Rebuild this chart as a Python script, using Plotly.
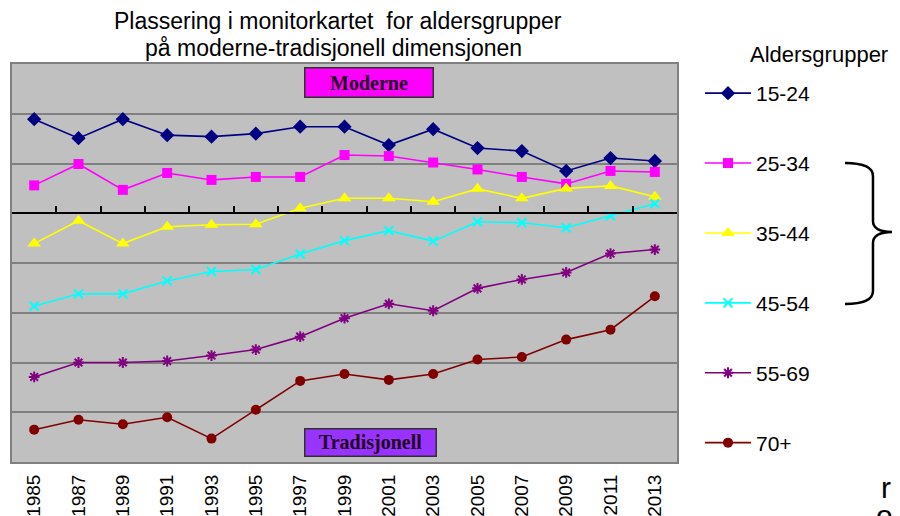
import plotly.graph_objects as go

years = ["1985", "1987", "1989", "1991", "1993", "1995", "1997", "1999",
         "2001", "2003", "2005", "2007", "2009", "2011", "2013"]

g15_24 = [1.89, 1.51, 1.89, 1.57, 1.54, 1.60, 1.74, 1.74, 1.37, 1.69, 1.31, 1.25, 0.85, 1.11, 1.05]
g25_34 = [0.56, 0.99, 0.47, 0.81, 0.67, 0.73, 0.73, 1.17, 1.15, 1.02, 0.88, 0.73, 0.59, 0.85, 0.83]
g35_44 = [-0.61, -0.15, -0.61, -0.27, -0.23, -0.22, 0.10, 0.30, 0.30, 0.23, 0.49, 0.30, 0.50, 0.55, 0.33]
g45_54 = [-1.87, -1.62, -1.62, -1.36, -1.17, -1.13, -0.82, -0.55, -0.35, -0.56, -0.17, -0.19, -0.29, -0.05, 0.19]
g55_69 = [-3.29, -3.00, -3.00, -2.97, -2.86, -2.74, -2.48, -2.11, -1.82, -1.96, -1.51, -1.33, -1.19, -0.81, -0.73]
g70 = [-4.35, -4.15, -4.24, -4.10, -4.53, -3.95, -3.37, -3.23, -3.35, -3.23, -2.94, -2.89, -2.54, -2.34, -1.67]

series = [
    ("15-24", g15_24, "#000080", "diamond", 11),
    ("25-34", g25_34, "#FF00FF", "square", 10),
    ("35-44", g35_44, "#FFFF00", "triangle-up", 12),
    ("45-54", g45_54, "#00FFFF", "x-thin-open", 9),
    ("55-69", g55_69, "#800080", "asterisk-open", 9),
    ("70+", g70, "#800000", "circle", 10),
]

idx = list(range(len(years)))

# page body has an 8px default margin; figure sized to fit the window
OFF = 8
FW, FH = 900 - OFF, 516 - OFF
# plot area in screen pixels
L, R, T, B = 12, 677, 64, 462
W, H = R - L, B - T


def px(x):
    return (x - L) / W


def py(y):
    return (B - y) / H


fig = go.Figure()
for i, (name, vals, col, sym, size) in enumerate(series):
    mk = dict(symbol=sym, size=size, color=col)
    if sym.endswith("open"):
        mk["line"] = dict(color=col, width=2)
    else:
        mk["line"] = dict(width=0)
    fig.add_trace(go.Scatter(
        x=idx, y=vals, name=name, mode="lines+markers",
        line=dict(color=col, width=1.6), marker=mk,
        legendgroup=name,
    ))

# dummy trace for zero axis with tick marks
fig.add_trace(go.Scatter(x=[None], y=[None], xaxis="x2", showlegend=False,
                         hoverinfo="skip"))

font_main = "Liberation Sans, Arial, sans-serif"
font_serif = "Liberation Serif, Times New Roman, serif"

fig.update_layout(
    width=FW, height=FH,
    margin=dict(l=L - OFF, r=FW - (R - OFF), t=T - OFF, b=FH - (B - OFF),
                pad=0, autoexpand=False),
    paper_bgcolor="white",
    plot_bgcolor="#C0C0C0",
    font=dict(family=font_main, color="black"),
    showlegend=True,
    legend=dict(
        x=px(700), y=py(73), xanchor="left", yanchor="top",
        font=dict(size=21, family=font_main, color="black"),
        tracegroupgap=39.6, bgcolor="rgba(0,0,0,0)",
        itemwidth=46, maxheight=600,
    ),
    xaxis=dict(
        range=[-0.5, 14.5], tickmode="array", tickvals=idx, ticktext=years,
        tickangle=-90, ticks="", showgrid=False, zeroline=False,
        showline=True, mirror=True, linecolor="#808080", linewidth=2,
        tickfont=dict(size=19, family=font_main, color="black"),
        ticklabelstandoff=3, automargin=False,
    ),
    xaxis2=dict(
        overlaying="x", anchor="free", position=5 / 8, side="bottom",
        range=[-0.5, 14.5], tickmode="array",
        tickvals=[i + 0.5 for i in range(len(years) - 1)],
        ticks="inside", ticklen=6, tickwidth=2, tickcolor="black",
        showline=True, linecolor="black", linewidth=2,
        showticklabels=False, showgrid=False, zeroline=False, automargin=False,
    ),
    yaxis=dict(
        range=[-5, 3], dtick=1, tick0=0, showgrid=True, gridcolor="#808080",
        gridwidth=1.5, showticklabels=False, ticks="", zeroline=False,
        showline=True, mirror=True, linecolor="#808080", linewidth=2,
        automargin=False,
    ),
)

annotations = [
    dict(text="Plassering i monitorkartet  for aldersgrupper", x=px(338), y=py(21),
         font=dict(size=23, family=font_main, color="black")),
    dict(text="på moderne-tradisjonell dimensjonen", x=px(333), y=py(48),
         font=dict(size=23, family=font_main, color="black")),
    dict(text="Aldersgrupper", x=px(748), y=py(55), xanchor="left",
         font=dict(size=22, family=font_main, color="black")),
    dict(text="<b>Moderne</b>", x=px(369), y=py(82.5),
         font=dict(size=20, family=font_serif, color="#200020"),
         bgcolor="#FF00FF", bordercolor="#303030", borderwidth=1.5, borderpad=0,
         width=127, height=28),
    dict(text="<b>Tradisjonell</b>", x=px(370.5), y=py(442.5),
         font=dict(size=20, family=font_serif, color="#200020"),
         bgcolor="#9933FF", bordercolor="#303030", borderwidth=1.5, borderpad=0,
         width=130, height=26),
    dict(text="r", x=px(879), y=py(487), xanchor="left", height=24,
         font=dict(size=30, family=font_main, color="black")),
    dict(text="ol", x=px(874), y=py(515), xanchor="left", height=24,
         font=dict(size=30, family=font_main, color="black")),
]
for a in annotations:
    a.setdefault("xanchor", "center")
    a.setdefault("yanchor", "middle")
    a.update(xref="paper", yref="paper", showarrow=False)
fig.update_layout(annotations=annotations)

# brace
pts = [
    ("M", [(845, 163)]),
    ("Q", [(873, 163), (873, 176)]),
    ("L", [(873, 221)]),
    ("Q", [(873, 232), (893, 232)]),
    ("L", [(910, 232)]),
    ("M", [(893, 232)]),
    ("Q", [(873, 232), (873, 243)]),
    ("L", [(873, 291)]),
    ("Q", [(873, 304), (845, 304)]),
]
path = " ".join(cmd + " " + " ".join(f"{px(a):.4f},{py(b):.4f}" for a, b in p) for cmd, p in pts)
fig.add_shape(type="path", path=path, xref="paper", yref="paper",
              line=dict(color="black", width=2.5))

fig.write_html("out.html")
